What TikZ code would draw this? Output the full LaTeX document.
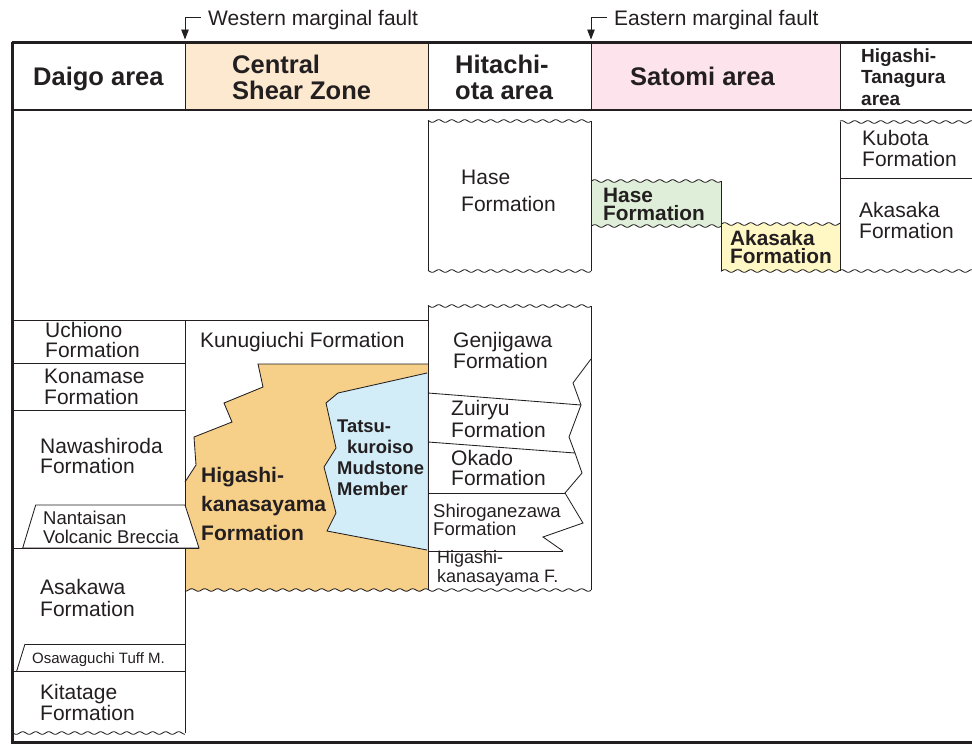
\documentclass[tikz,border=0pt]{standalone}
\usepackage{fontspec}
\setmainfont{Liberation Sans}
\usetikzlibrary{arrows.meta}
\definecolor{ink}{HTML}{231F20}
\definecolor{peach}{HTML}{FDE9D0}
\definecolor{pinkc}{HTML}{FDE4EC}
\definecolor{orangec}{HTML}{F6CF89}
\definecolor{bluec}{HTML}{D2ECF8}
\definecolor{greenc}{HTML}{DEEED8}
\definecolor{yellowc}{HTML}{FFF7C4}
\newcommand{\fsz}[2]{\fontsize{#1}{#2}\selectfont}
\newcommand{\twol}[2]{\vtop{\hbox{#1}\hbox{#2}}}
\newcommand{\threel}[3]{\vtop{\hbox{#1}\hbox{#2}\hbox{#3}}}
\newcommand{\wy}[1]{#1+1.3*sin(27.6923*mod(\x,13))}
\begin{document}
\begin{tikzpicture}[x=1pt,y=-1pt,
  ln/.style={draw=ink,line width=0.85pt,line join=miter},
  frame/.style={draw=ink,line width=3pt},
  wave/.style={samples=220},
  txt/.style={anchor=base west,inner sep=0pt,text=ink,font=\fsz{21}{21}},
  btxt/.style={anchor=base west,inner sep=0pt,text=ink,font=\bfseries\fsz{20.8}{18.5}},
  hdr/.style={anchor=base west,inner sep=0pt,text=ink,font=\bfseries\fsz{25.5}{26}},
  smtxt/.style={anchor=base west,inner sep=0pt,text=ink,font=\fsz{18.5}{18.5}},
  fault/.style={draw=ink,line width=0.9pt,-{Triangle[length=10pt,width=7.5pt]}}]
\useasboundingbox (0,0) rectangle (972,745);
% header fills
\fill[peach] (185,42) rectangle (428,110);
\fill[pinkc] (591,42) rectangle (840,110);
% orange formation
\fill[orangec] (258,364) -- (263,387) -- (224,403) -- (232,422) -- (194,437) -- (196,465) -- (185,482) -- (185,590) -- plot[wave,domain=185:428] (\x,{\wy{590}}) -- (428,364) -- cycle;
\draw[ln] (428,364) -- (258,364) -- (263,387) -- (224,403) -- (232,422) -- (194,437) -- (196,465) -- (185,482);
% blue member
\fill[bluec] (427,373) -- (338,393) -- (326,403) -- (336,448) -- (324,467) -- (336,513) -- (327,531) -- (427,550) -- cycle;
\draw[ln] (427,373) -- (338,393) -- (326,403) -- (336,448) -- (324,467) -- (336,513) -- (327,531) -- (427,550);
% green and yellow boxes
\fill[greenc] (591,181) -- plot[wave,domain=591:721] (\x,{\wy{181}}) -- (721,226) -- plot[wave,domain=721:591] (\x,{\wy{226}}) -- cycle;
\fill[yellowc] (721,224) -- plot[wave,domain=721:840] (\x,{\wy{224}}) -- (840,271) -- plot[wave,domain=840:721] (\x,{\wy{271}}) -- cycle;
% Daigo column
\draw[ln] (185,320) -- (185,733);
\draw[ln] (12,320) -- (428,320);
\draw[ln] (12,363) -- (185,363);
\draw[ln] (12,410) -- (185,410);
\filldraw[fill=white,ln] (35.7,505) -- (185,505) -- (199,548) -- (22.7,548) -- cycle;
\draw[ln] (12,548) -- (199,548);
\draw[ln] (25,644) -- (185,644);
\draw[ln] (25,644) -- (16.7,671);
\draw[ln] (12,671) -- (185,671);
\draw[ln] plot[wave,domain=12:185] (\x,{\wy{733}});
% Hitachi-ota upper box
\draw[ln] plot[wave,domain=428:591] (\x,{\wy{121}});
\draw[ln] plot[wave,domain=428:591] (\x,{\wy{271}});
\draw[ln] (428,121) -- (428,271);
\draw[ln] (591,121) -- (591,271);
% Satomi
\draw[ln] plot[wave,domain=591:721] (\x,{\wy{181}});
\draw[ln] plot[wave,domain=591:721] (\x,{\wy{226}});
\draw[ln] (721,181) -- (721,271);
\draw[ln] plot[wave,domain=721:840] (\x,{\wy{224}});
\draw[ln] plot[wave,domain=721:840] (\x,{\wy{271}});
% Higashi-Tanagura
\draw[ln] (840,122) -- (840,271);
\draw[ln] plot[wave,domain=840:972] (\x,{\wy{122}});
\draw[ln] (840,178) -- (972,178);
\draw[ln] plot[wave,domain=840:972] (\x,{\wy{271}});
% Hitachi-ota lower stack
\draw[ln] plot[wave,domain=428:591] (\x,{\wy{306}});
\draw[ln] (428,306) -- (428,590);
\draw[ln] (591,306) -- (591,590);
\draw[ln] plot[wave,domain=185:591] (\x,{\wy{590}});
\draw[ln] (428,393) -- (581,405);
\draw[ln] (428,442) -- (575,453);
\draw[ln] (428,493) -- (565,493);
\draw[ln] (428,551) -- (563,551);
\draw[ln] (591,359) -- (573,383) -- (581,405) -- (569,437) -- (575,453) -- (582,473) -- (565,493) -- (583,523) -- (543,537) -- (563,551);
% header separators
\foreach \xx in {185,428,591,840} \draw[ln] (\xx,42) -- (\xx,110);
\draw[draw=ink,line width=2pt] (12,110) -- (972,110);
% frame
\draw[frame] (12,42) -- (972,42);
\draw[frame] (12,42) -- (12,742);
\draw[frame] (10.5,742) -- (972,742);
% fault arrows
\coordinate (wfk) at (185,17);
\coordinate (wft) at (185,39.5);
\coordinate (wfe) at (201,17);
\draw[ln] (wfe) -- (wfk);
\draw[fault] (wfk) -- (wft);
\coordinate (efk) at (591,17);
\coordinate (eft) at (591,39.5);
\coordinate (efe) at (607,17);
\draw[ln] (efe) -- (efk);
\draw[fault] (efk) -- (eft);
\node[txt] (wlab) at (208,25.5) {Western marginal fault};
\node[txt] (elab) at (614,25.5) {Eastern marginal fault};
% headers
\node[hdr] (h1) at (33,85) {Daigo area};
\node[hdr] (h2) at (232,73) {\twol{Central}{Shear Zone}};
\node[hdr] (h3) at (455,73) {\twol{Hitachi-}{ota area}};
\node[hdr] (h4) at (630,85) {Satomi area};
\node[hdr,font=\bfseries\fsz{19}{21.5}] (h5) at (861,62) {\threel{Higashi-}{Tanagura}{area}};
% upper formations
\node[txt,font=\fsz{21}{27}] (hase1) at (461,184) {\twol{Hase}{Formation}};
\node[btxt] (hase2) at (603,202) {\twol{Hase}{Formation}};
\node[btxt] (aka2) at (730,245) {\twol{Akasaka}{Formation}};
\node[txt] (kubota) at (862,145) {\twol{Kubota}{Formation}};
\node[txt] (aka3) at (859,217) {\twol{Akasaka}{Formation}};
% Daigo
\node[txt,font=\fsz{21}{20}] (uch) at (45,337) {\twol{Uchiono}{Formation}};
\node[txt] (kon) at (44,383) {\twol{Konamase}{Formation}};
\node[txt,font=\fsz{21}{20}] (naw) at (40,453) {\twol{Nawashiroda}{Formation}};
\node[smtxt,font=\fsz{18.5}{19}] (nan) at (43,524) {\twol{Nantaisan}{Volcanic Breccia}};
\node[txt,font=\fsz{21}{22}] (asa) at (40,594) {\twol{Asakawa}{Formation}};
\node[txt,font=\fsz{15}{15}] (osa) at (32,663) {Osawaguchi Tuff M.};
\node[txt] (kit) at (40,699) {\twol{Kitatage}{Formation}};
% Central shear zone
\node[txt] (kun) at (200,347) {Kunugiuchi Formation};
\node[btxt,font=\bfseries\fsz{21}{29}] (hks) at (201,482) {\threel{Higashi-}{kanasayama}{Formation}};
\node[btxt,font=\bfseries\fsz{18.4}{21}] (tat) at (337,432) {\vtop{\hbox{Tatsu-}\hbox{\hspace*{10pt}kuroiso}\hbox{Mudstone}\hbox{Member}}};
% Hitachi-ota lower
\node[txt] (gen) at (453,347) {\twol{Genjigawa}{Formation}};
\node[txt,font=\fsz{21}{22}] (zui) at (451,415) {\twol{Zuiryu}{Formation}};
\node[txt,font=\fsz{21}{20}] (oka) at (451,465) {\twol{Okado}{Formation}};
\node[smtxt,font=\fsz{18.5}{18}] (shi) at (433,517) {\twol{Shiroganezawa}{Formation}};
\node[smtxt,font=\fsz{18}{19}] (hkf) at (437,563) {\twol{Higashi-}{kanasayama F.}};
\end{tikzpicture}
\end{document}
